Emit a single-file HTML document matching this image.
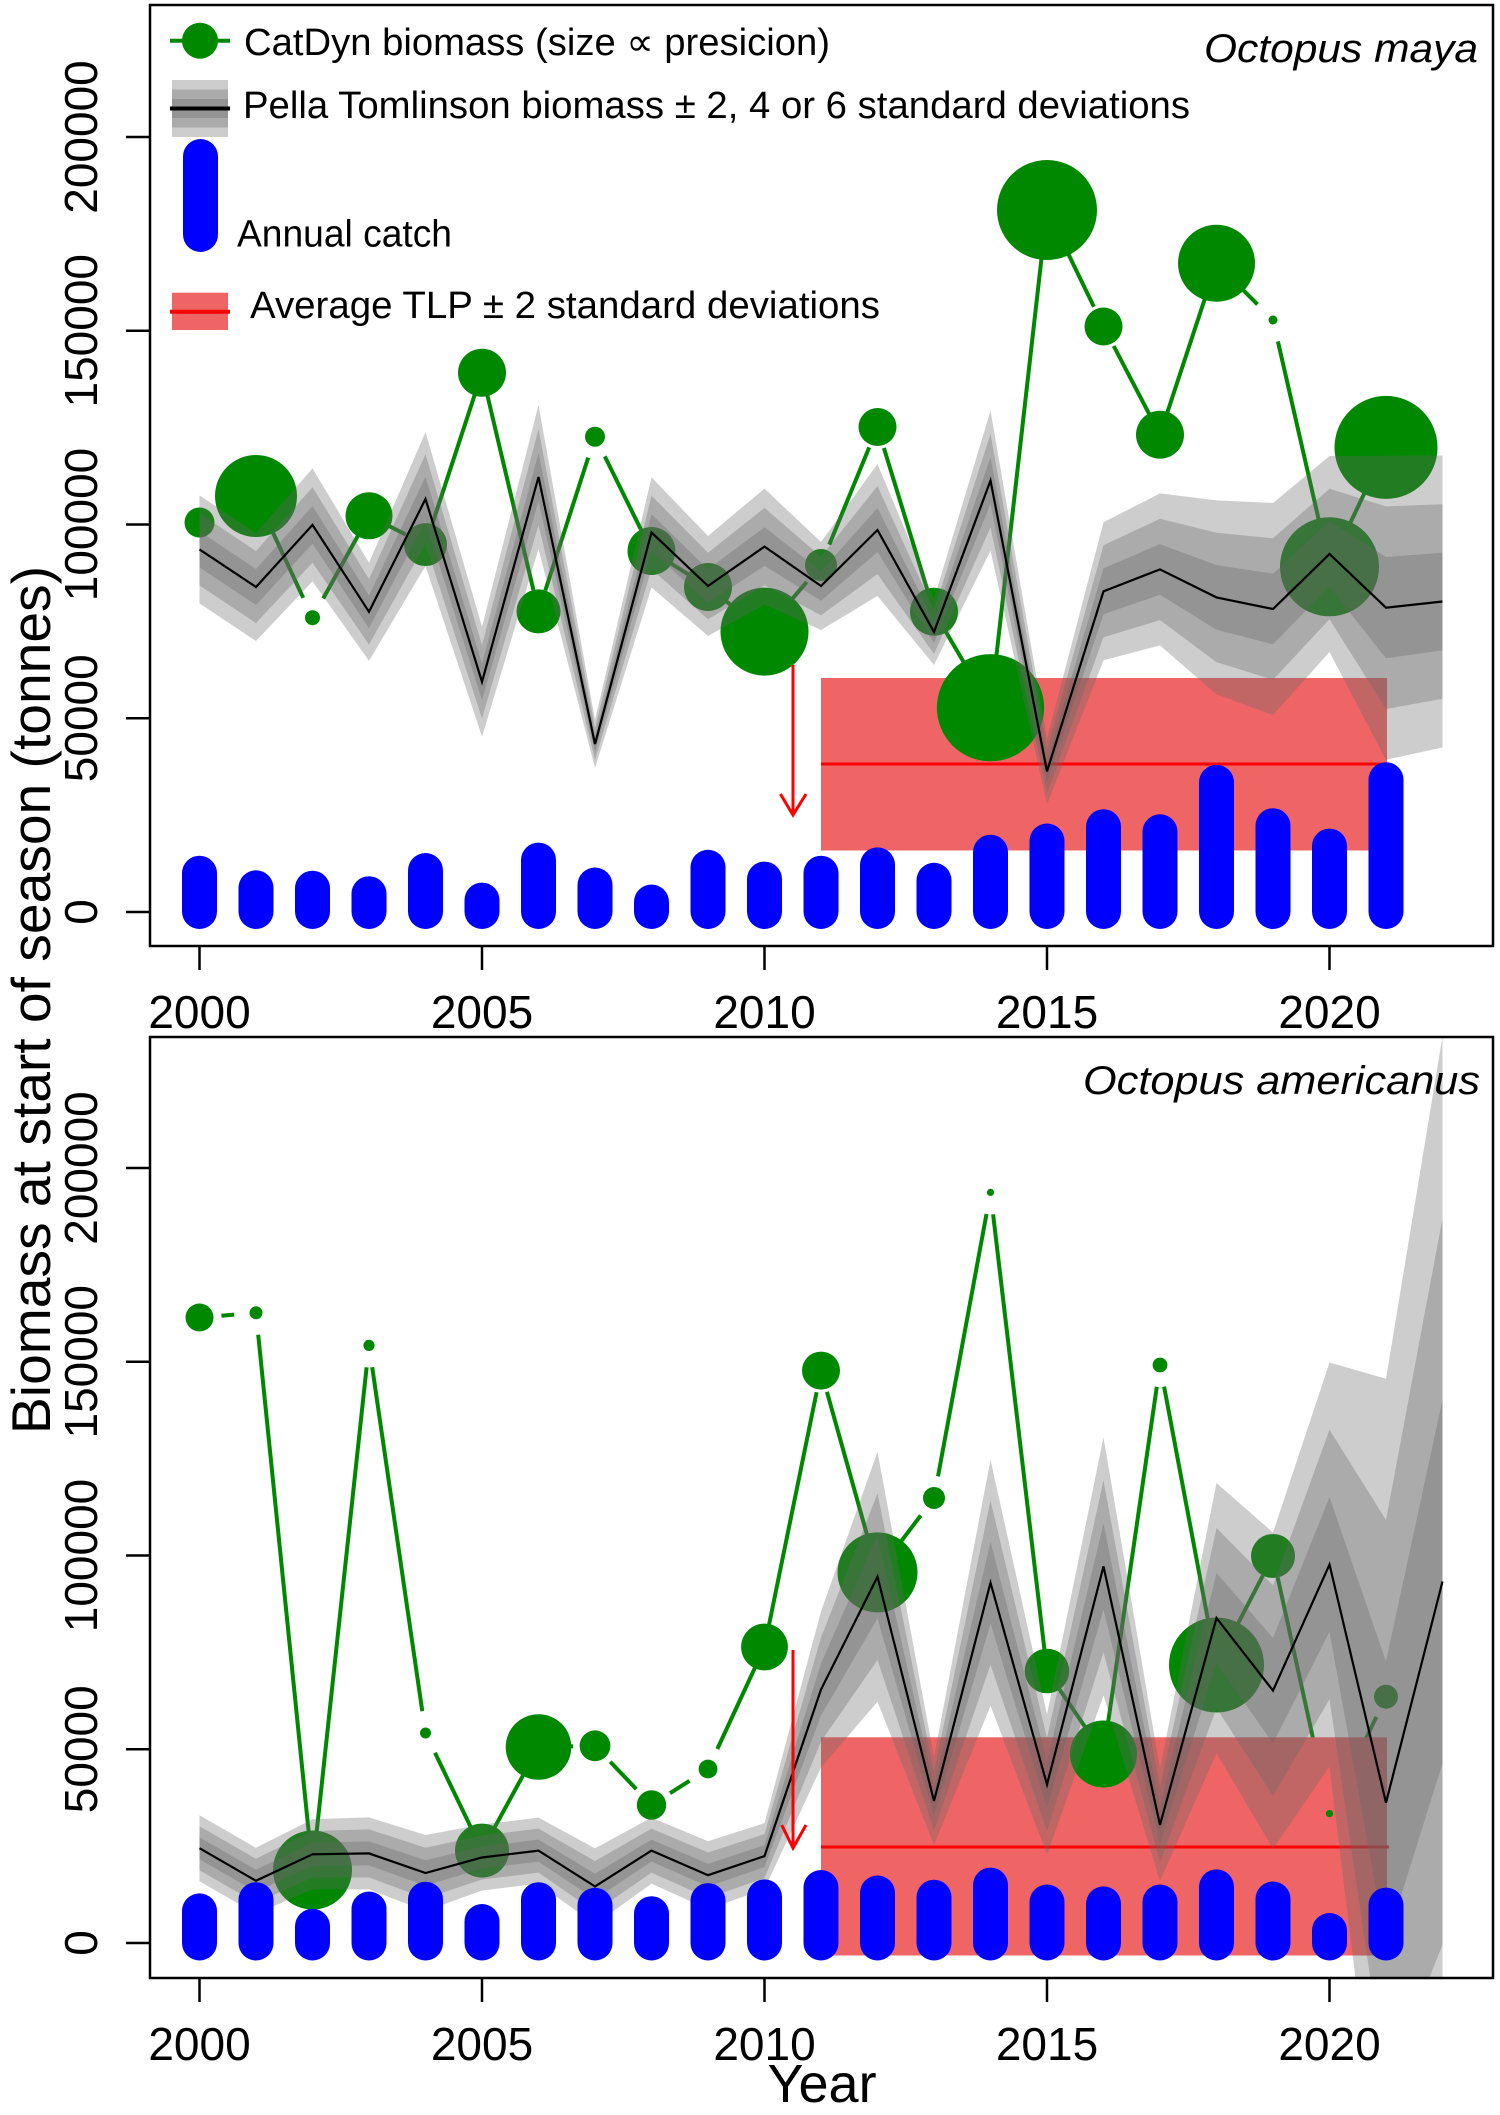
<!DOCTYPE html>
<html>
<head>
<meta charset="utf-8">
<style>
html,body{margin:0;padding:0;background:#fff;width:1500px;height:2115px;overflow:hidden;}
svg{display:block;}
text{font-family:"Liberation Sans",Arial,"DejaVu Sans",sans-serif;fill:#000;}
</style>
</head>
<body>
<svg width="1500" height="2115" viewBox="0 0 1500 2115" xmlns="http://www.w3.org/2000/svg">
<defs>
<clipPath id="ct"><rect x="150" y="5" width="1343" height="941"/></clipPath>
<clipPath id="cb"><rect x="150" y="1037" width="1343" height="941"/></clipPath>
</defs>
<rect width="1500" height="2115" fill="#fff"/>

<!-- ================= TOP PANEL ================= -->
<g clip-path="url(#ct)">
  <path fill="none" stroke="#008800" stroke-width="4" d="M219.4,513.2L236.1,505.4 M265.3,516L303.2,597.8 M323.2,598.5L358.3,535 M388.6,525.8L405.9,534.6 M432.4,523.7L475.1,393.6 M487.1,394.1L533.4,590 M545.3,590.5L588.2,457.6 M604.8,456.4L641.8,531.3 M670,562.8L689.5,575.2 M725.3,600.6L747.2,618 M778.7,614.8L806.8,581.8 M829.3,544.6L869.2,447.4 M883.9,448L927.6,590.7 M945.2,630.7L979.3,688.7 M993,685.8L1044.5,231.9 M1056.6,229.8L1093.9,306.7 M1113.7,346L1149.8,415.2 M1166.9,413.8L1209.6,284.2 M1232,278.9L1257.5,304.4 M1277.9,341.4L1324.6,545.4 M1338.9,546.9L1376.6,467.5"/>
  <rect x="821" y="678" width="566" height="172.5" fill="#ef6464"/>
  <line x1="821" y1="764" x2="1387" y2="764" stroke="#ff0000" stroke-width="3"/>
  <g fill="#008800">
    <circle cx="199.5" cy="522.5" r="15"/>
    <circle cx="256" cy="496" r="41"/>
    <circle cx="312.5" cy="617.7" r="7.5"/>
    <circle cx="369" cy="515.8" r="23.5"/>
    <circle cx="425.5" cy="544.6" r="21.5"/>
    <circle cx="482" cy="372.7" r="24"/>
    <circle cx="538.5" cy="611.4" r="22"/>
    <circle cx="595" cy="436.7" r="10"/>
    <circle cx="651.5" cy="551" r="24"/>
    <circle cx="708" cy="587" r="24"/>
    <circle cx="764.5" cy="631.6" r="44"/>
    <circle cx="821" cy="565" r="16"/>
    <circle cx="877.5" cy="427" r="19"/>
    <circle cx="934" cy="611.7" r="24"/>
    <circle cx="990.5" cy="707.7" r="53.6"/>
    <circle cx="1047" cy="210" r="50"/>
    <circle cx="1103.5" cy="326.5" r="19"/>
    <circle cx="1160" cy="434.7" r="24"/>
    <circle cx="1216.5" cy="263.3" r="38.5"/>
    <circle cx="1273" cy="320" r="4.5"/>
    <circle cx="1329.5" cy="566.8" r="49.5"/>
    <circle cx="1386" cy="447.4" r="51.5"/>
  </g>
  <g fill="#666" fill-opacity="0.33">
    <polygon points="199.5,495.4 256,533 312.5,468.4 369,562.8 425.5,432 482,626.8 538.5,405 595,720 651.5,477.4 708,536 764.5,488.6 821,542 877.5,464 934,599 990.5,410.6 1047,738.4 1103.5,522.3 1160,493.4 1216.5,500.4 1273,503 1329.5,456 1386,455.7 1442.5,455.5 1442.5,747.5 1386,759.7 1329.5,652 1273,715 1216.5,694.4 1160,645.4 1103.5,660.3 1047,804.4 990.5,550.6 934,665 877.5,596 821,630 764.5,604.6 708,636 651.5,587.4 595,768 538.5,549 482,736.8 425.5,566 369,660.8 312.5,581.4 256,641 199.5,603.4"/>
    <polygon points="199.5,513.4 256,551 312.5,487.2 369,579.1 425.5,454.3 482,645.1 538.5,429 595,728 651.5,495.7 708,552.7 764.5,507.9 821,556.7 877.5,486 934,610 990.5,433.9 1047,749.4 1103.5,545.3 1160,518.7 1216.5,532.7 1273,538.3 1329.5,488.7 1386,506.4 1442.5,504.2 1442.5,698.8 1386,709 1329.5,619.3 1273,679.7 1216.5,662.1 1160,620.1 1103.5,637.3 1047,793.4 990.5,527.3 934,654 877.5,574 821,615.3 764.5,585.3 708,619.3 651.5,569.1 595,760 538.5,525 482,718.5 425.5,543.7 369,644.5 312.5,562.6 256,623 199.5,585.4"/>
    <polygon points="199.5,531.4 256,569 312.5,506.1 369,595.5 425.5,476.7 482,663.5 538.5,453 595,736 651.5,514.1 708,569.3 764.5,527.3 821,571.3 877.5,508 934,621 990.5,457.3 1047,760.4 1103.5,568.3 1160,544.1 1216.5,565.1 1273,573.7 1329.5,521.3 1386,557 1442.5,552.8 1442.5,650.2 1386,658.4 1329.5,586.7 1273,644.3 1216.5,629.7 1160,594.7 1103.5,614.3 1047,782.4 990.5,503.9 934,643 877.5,552 821,600.7 764.5,565.9 708,602.7 651.5,550.7 595,752 538.5,501 482,700.1 425.5,521.3 369,628.1 312.5,543.7 256,605 199.5,567.4"/>
  </g>
  <g fill="#0000ff">
    <rect x="182" y="855.7" width="35" height="73.3" rx="17.5"/>
    <rect x="238.5" y="870.3" width="35" height="58.7" rx="17.5"/>
    <rect x="295" y="870.7" width="35" height="58.3" rx="17.5"/>
    <rect x="351.5" y="876.2" width="35" height="52.8" rx="17.5"/>
    <rect x="408" y="853" width="35" height="76" rx="17.5"/>
    <rect x="464.5" y="882.6" width="35" height="46.4" rx="17.5"/>
    <rect x="521" y="842.6" width="35" height="86.4" rx="17.5"/>
    <rect x="577.5" y="867.5" width="35" height="61.5" rx="17.5"/>
    <rect x="634" y="884.5" width="35" height="44.5" rx="17.5"/>
    <rect x="690.5" y="849.8" width="35" height="79.2" rx="17.5"/>
    <rect x="747" y="861.6" width="35" height="67.4" rx="17.5"/>
    <rect x="803.5" y="855.7" width="35" height="73.3" rx="17.5"/>
    <rect x="860" y="847.4" width="35" height="81.6" rx="17.5"/>
    <rect x="916.5" y="862.8" width="35" height="66.2" rx="17.5"/>
    <rect x="973" y="834.7" width="35" height="94.3" rx="17.5"/>
    <rect x="1029.5" y="823.5" width="35" height="105.5" rx="17.5"/>
    <rect x="1086" y="809.2" width="35" height="119.8" rx="17.5"/>
    <rect x="1142.5" y="814.3" width="35" height="114.7" rx="17.5"/>
    <rect x="1199" y="764.8" width="35" height="164.2" rx="17.5"/>
    <rect x="1255.5" y="808.2" width="35" height="120.8" rx="17.5"/>
    <rect x="1312" y="828.6" width="35" height="100.4" rx="17.5"/>
    <rect x="1368.5" y="762.2" width="35" height="166.8" rx="17.5"/>
  </g>
  <polyline fill="none" stroke="#000" stroke-width="2.2" points="199.5,549.4 256,587 312.5,524.9 369,611.8 425.5,499 482,681.8 538.5,477 595,744 651.5,532.4 708,586 764.5,546.6 821,586 877.5,530 934,632 990.5,480.6 1047,771.4 1103.5,591.3 1160,569.4 1216.5,597.4 1273,609 1329.5,554 1386,607.7 1442.5,601.5"/>
  <g stroke="#ff0000" stroke-width="3" fill="none">
    <line x1="793" y1="665" x2="793" y2="815"/>
    <polyline points="780.4,794 793,815 806,794"/>
  </g>
</g>

<!-- top legend -->
<line x1="170" y1="40.7" x2="230" y2="40.7" stroke="#008800" stroke-width="4"/>
<circle cx="200" cy="40.7" r="18" fill="#008800"/>
<text x="244" y="55" font-size="38" textLength="586" lengthAdjust="spacingAndGlyphs">CatDyn biomass (size ∝ presicion)</text>
<g fill="#666" fill-opacity="0.33">
  <rect x="172" y="80" width="56" height="57"/>
  <rect x="172" y="89.5" width="56" height="38"/>
  <rect x="172" y="99" width="56" height="19"/>
</g>
<line x1="170" y1="108.5" x2="230" y2="108.5" stroke="#000" stroke-width="4"/>
<text x="243" y="118" font-size="38" textLength="947" lengthAdjust="spacingAndGlyphs">Pella Tomlinson biomass ± 2, 4 or 6 standard deviations</text>
<rect x="183" y="139" width="35" height="113" rx="17.5" fill="#0000ff"/>
<text x="237" y="246.7" font-size="38" textLength="215" lengthAdjust="spacingAndGlyphs">Annual catch</text>
<rect x="172" y="292.7" width="56" height="37.3" fill="#ef6464"/>
<line x1="170" y1="311.7" x2="230" y2="311.7" stroke="#ff0000" stroke-width="4"/>
<text x="250" y="318" font-size="38" textLength="630" lengthAdjust="spacingAndGlyphs">Average TLP ± 2 standard deviations</text>
<text x="1204" y="62" font-size="40" font-style="italic" textLength="274" lengthAdjust="spacingAndGlyphs">Octopus maya</text>

<!-- top frame and axes -->
<rect x="150" y="5" width="1343" height="941" fill="none" stroke="#000" stroke-width="2.5"/>
<g stroke="#000" stroke-width="2.5">
  <line x1="126" y1="912" x2="150" y2="912"/>
  <line x1="126" y1="718.25" x2="150" y2="718.25"/>
  <line x1="126" y1="524.5" x2="150" y2="524.5"/>
  <line x1="126" y1="330.75" x2="150" y2="330.75"/>
  <line x1="126" y1="137" x2="150" y2="137"/>
  <line x1="199.5" y1="946" x2="199.5" y2="970"/>
  <line x1="482" y1="946" x2="482" y2="970"/>
  <line x1="764.5" y1="946" x2="764.5" y2="970"/>
  <line x1="1047" y1="946" x2="1047" y2="970"/>
  <line x1="1329.5" y1="946" x2="1329.5" y2="970"/>
</g>
<g font-size="46" text-anchor="middle">
  <text transform="translate(97,912) rotate(-90)">0</text>
  <text transform="translate(97,718.25) rotate(-90)">50000</text>
  <text transform="translate(97,524.5) rotate(-90)">100000</text>
  <text transform="translate(97,330.75) rotate(-90)">150000</text>
  <text transform="translate(97,137) rotate(-90)">200000</text>
  <text x="199.5" y="1028">2000</text>
  <text x="482" y="1028">2005</text>
  <text x="764.5" y="1028">2010</text>
  <text x="1047" y="1028">2015</text>
  <text x="1329.5" y="1028">2020</text>
</g>

<!-- ================= BOTTOM PANEL ================= -->
<g clip-path="url(#cb)">
  <path fill="none" stroke="#008800" stroke-width="4" d="M221.4,1315.7L234.1,1314.6 M258.2,1334.7L310.3,1848.1 M314.9,1848.1L366.6,1367.3 M372.2,1367.2L422.3,1711.2 M435,1752.8L472.5,1830.8 M492.5,1831.3L528,1766.3 M560.5,1746.5L573,1746.3 M610.2,1761.7L636.3,1789.1 M670,1793.2L689.5,1780.8 M717.3,1749L755.3,1667 M768.9,1625.4L816.6,1392.2 M826.9,1391.8L871.6,1551.2 M890.8,1554.9L920.7,1515.5 M938,1476.4L986.5,1214 M993.1,1214.3L1044.4,1649.2 M1059.4,1689.2L1091.1,1735.8 M1106.7,1732.2L1156.8,1386.8 M1164.1,1386.6L1212.4,1643.4 M1226.6,1645.5L1262.9,1575.5 M1277.7,1577.5L1324.8,1792.1 M1339.1,1793.8L1376.4,1716.9"/>
  <rect x="821" y="1737.3" width="566" height="218.2" fill="#ef6464"/>
  <line x1="821" y1="1847" x2="1389" y2="1847" stroke="#ff0000" stroke-width="3"/>
  <g fill="#008800">
    <circle cx="199.5" cy="1317.5" r="14"/>
    <circle cx="256" cy="1312.8" r="6.5"/>
    <circle cx="312.5" cy="1870" r="39.5"/>
    <circle cx="369" cy="1345.4" r="5.6"/>
    <circle cx="425.5" cy="1733" r="5.5"/>
    <circle cx="482" cy="1850.6" r="27"/>
    <circle cx="538.5" cy="1747" r="32.8"/>
    <circle cx="595" cy="1745.8" r="15.4"/>
    <circle cx="651.5" cy="1805" r="14.7"/>
    <circle cx="708" cy="1769" r="9.4"/>
    <circle cx="764.5" cy="1647" r="23.4"/>
    <circle cx="821" cy="1370.6" r="19"/>
    <circle cx="877.5" cy="1572.4" r="40"/>
    <circle cx="934" cy="1498" r="11"/>
    <circle cx="990.5" cy="1192.4" r="3.6"/>
    <circle cx="1047" cy="1671" r="22.3"/>
    <circle cx="1103.5" cy="1754" r="33.5"/>
    <circle cx="1160" cy="1365" r="7.4"/>
    <circle cx="1216.5" cy="1665" r="47.5"/>
    <circle cx="1273" cy="1556" r="22"/>
    <circle cx="1329.5" cy="1813.6" r="3.6"/>
    <circle cx="1386" cy="1696.7" r="12"/>
  </g>
  <g fill="#666" fill-opacity="0.33">
    <polygon points="199.5,1815.2 256,1847.8 312.5,1819.3 369,1817.4 425.5,1835 482,1824.5 538.5,1817.6 595,1848.4 651.5,1817.6 708,1841.2 764.5,1823.1 821,1611.5 877.5,1451.7 934,1757 990.5,1459.7 1047,1714.5 1103.5,1437.4 1160,1769 1216.5,1483 1273,1532.6 1329.5,1362.5 1386,1378.7 1442.5,1036.5 1442.5,1980 1355.7,1980 1329.5,1766.5 1273,1848.6 1216.5,1753 1160,1881 1103.5,1695.4 1047,1854.5 990.5,1705.7 934,1845 877.5,1701.7 821,1767.5 764.5,1889.1 708,1909.2 651.5,1883.6 595,1924.4 538.5,1883.6 482,1890.5 425.5,1911 369,1889.4 312.5,1889.3 256,1913.8 199.5,1881.2"/>
    <polygon points="199.5,1826.2 256,1858.8 312.5,1831 369,1829.4 425.5,1847.7 482,1835.5 538.5,1828.6 595,1861.1 651.5,1828.6 708,1852.5 764.5,1834.1 821,1637.5 877.5,1493.4 934,1771.7 990.5,1500.7 1047,1737.8 1103.5,1480.4 1160,1787.7 1216.5,1528 1273,1585.3 1329.5,1429.8 1386,1520 1442.5,1218.2 1442.5,1944.8 1428.4,1980 1370.6,1980 1329.5,1699.2 1273,1795.9 1216.5,1708 1160,1862.3 1103.5,1652.4 1047,1831.2 990.5,1664.7 934,1830.3 877.5,1660 821,1741.5 764.5,1878.1 708,1897.9 651.5,1872.6 595,1911.7 538.5,1872.6 482,1879.5 425.5,1898.3 369,1877.4 312.5,1877.6 256,1902.8 199.5,1870.2"/>
    <polygon points="199.5,1837.2 256,1869.8 312.5,1842.6 369,1841.4 425.5,1860.3 482,1846.5 538.5,1839.6 595,1873.7 651.5,1839.6 708,1863.9 764.5,1845.1 821,1663.5 877.5,1535 934,1786.3 990.5,1541.7 1047,1761.2 1103.5,1523.4 1160,1806.3 1216.5,1573 1273,1637.9 1329.5,1497.2 1386,1661.4 1442.5,1399.8 1442.5,1763.2 1386,1944 1329.5,1631.8 1273,1743.3 1216.5,1663 1160,1843.7 1103.5,1609.4 1047,1807.8 990.5,1623.7 934,1815.7 877.5,1618.4 821,1715.5 764.5,1867.1 708,1886.5 651.5,1861.6 595,1899.1 538.5,1861.6 482,1868.5 425.5,1885.7 369,1865.4 312.5,1866 256,1891.8 199.5,1859.2"/>
  </g>
  <g fill="#0000ff">
    <rect x="182" y="1893.4" width="35" height="67.1" rx="17.5"/>
    <rect x="238.5" y="1882.2" width="35" height="78.3" rx="17.5"/>
    <rect x="295" y="1908.8" width="35" height="51.7" rx="17.5"/>
    <rect x="351.5" y="1891.5" width="35" height="69" rx="17.5"/>
    <rect x="408" y="1881.7" width="35" height="78.8" rx="17.5"/>
    <rect x="464.5" y="1904" width="35" height="56.5" rx="17.5"/>
    <rect x="521" y="1882.2" width="35" height="78.3" rx="17.5"/>
    <rect x="577.5" y="1887.8" width="35" height="72.7" rx="17.5"/>
    <rect x="634" y="1896.2" width="35" height="64.3" rx="17.5"/>
    <rect x="690.5" y="1883.1" width="35" height="77.4" rx="17.5"/>
    <rect x="747" y="1879.4" width="35" height="81.1" rx="17.5"/>
    <rect x="803.5" y="1870" width="35" height="90.5" rx="17.5"/>
    <rect x="860" y="1875.5" width="35" height="85" rx="17.5"/>
    <rect x="916.5" y="1879.7" width="35" height="80.8" rx="17.5"/>
    <rect x="973" y="1867.6" width="35" height="92.9" rx="17.5"/>
    <rect x="1029.5" y="1884.5" width="35" height="76" rx="17.5"/>
    <rect x="1086" y="1886.4" width="35" height="74.1" rx="17.5"/>
    <rect x="1142.5" y="1884.5" width="35" height="76" rx="17.5"/>
    <rect x="1199" y="1869.4" width="35" height="91.1" rx="17.5"/>
    <rect x="1255.5" y="1881.5" width="35" height="79" rx="17.5"/>
    <rect x="1312" y="1913" width="35" height="47.5" rx="17.5"/>
    <rect x="1368.5" y="1887.6" width="35" height="72.9" rx="17.5"/>
  </g>
  <polyline fill="none" stroke="#000" stroke-width="2.2" points="199.5,1848.2 256,1880.8 312.5,1854.3 369,1853.4 425.5,1873 482,1857.5 538.5,1850.6 595,1886.4 651.5,1850.6 708,1875.2 764.5,1856.1 821,1689.5 877.5,1576.7 934,1801 990.5,1582.7 1047,1784.5 1103.5,1566.4 1160,1825 1216.5,1618 1273,1690.6 1329.5,1564.5 1386,1802.7 1442.5,1581.5"/>
  <g stroke="#ff0000" stroke-width="3" fill="none">
    <line x1="793" y1="1650" x2="793" y2="1848"/>
    <polyline points="781.7,1825 793,1848 806,1825"/>
  </g>
</g>
<text x="1083" y="1094" font-size="40" font-style="italic" textLength="397" lengthAdjust="spacingAndGlyphs">Octopus americanus</text>

<!-- bottom frame and axes -->
<rect x="150" y="1037" width="1343" height="941" fill="none" stroke="#000" stroke-width="2.5"/>
<g stroke="#000" stroke-width="2.5">
  <line x1="126" y1="1943" x2="150" y2="1943"/>
  <line x1="126" y1="1749.25" x2="150" y2="1749.25"/>
  <line x1="126" y1="1555.5" x2="150" y2="1555.5"/>
  <line x1="126" y1="1361.75" x2="150" y2="1361.75"/>
  <line x1="126" y1="1168" x2="150" y2="1168"/>
  <line x1="199.5" y1="1978" x2="199.5" y2="2002"/>
  <line x1="482" y1="1978" x2="482" y2="2002"/>
  <line x1="764.5" y1="1978" x2="764.5" y2="2002"/>
  <line x1="1047" y1="1978" x2="1047" y2="2002"/>
  <line x1="1329.5" y1="1978" x2="1329.5" y2="2002"/>
</g>
<g font-size="46" text-anchor="middle">
  <text transform="translate(97,1943) rotate(-90)">0</text>
  <text transform="translate(97,1749.25) rotate(-90)">50000</text>
  <text transform="translate(97,1555.5) rotate(-90)">100000</text>
  <text transform="translate(97,1361.75) rotate(-90)">150000</text>
  <text transform="translate(97,1168) rotate(-90)">200000</text>
  <text x="199.5" y="2060">2000</text>
  <text x="482" y="2060">2005</text>
  <text x="764.5" y="2060">2010</text>
  <text x="1047" y="2060">2015</text>
  <text x="1329.5" y="2060">2020</text>
</g>

<text x="822" y="2102" font-size="54" text-anchor="middle">Year</text>
<text transform="translate(50,1000) rotate(-90)" font-size="55" text-anchor="middle" textLength="868" lengthAdjust="spacingAndGlyphs">Biomass at start of season (tonnes)</text>
</svg>
</body>
</html>
